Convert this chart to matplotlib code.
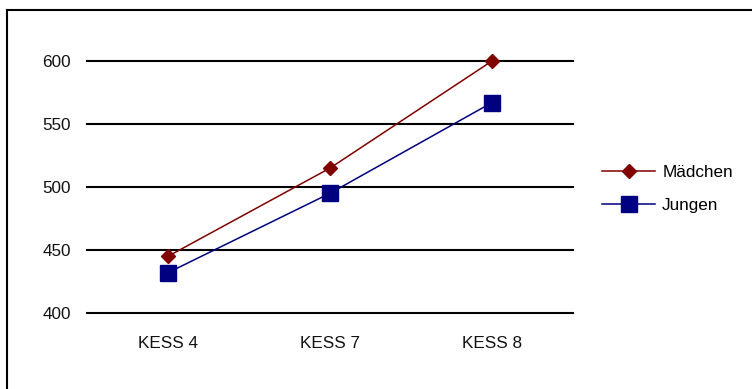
import matplotlib.pyplot as plt
from matplotlib.lines import Line2D

categories = ["KESS 4", "KESS 7", "KESS 8"]
maedchen = [445, 515, 600]
jungen = [432, 495, 567]
y_ticks = [400, 450, 500, 550, 600]

plt.rcParams['font.family'] = ['Liberation Sans', 'DejaVu Sans']

W, H = 752, 389
fig = plt.figure(figsize=(W / 100, H / 100), dpi=100)
ax = fig.add_axes([87 / W, (H - 313) / H, 486 / W, 252 / H])

x = range(len(categories))
ax.plot(x, maedchen, color='#800000', lw=1.1, marker='D', ms=7,
        label='Mädchen', clip_on=False, zorder=3)
ax.plot(x, jungen, color='#000080', lw=1.1, marker='s', ms=12,
        label='Jungen', clip_on=False, zorder=3)

ax.set_xlim(-0.5, len(categories) - 0.5)
ax.set_ylim(400, 600)
ax.set_yticks(y_ticks)
ax.set_xticks(list(x))
ax.set_xticklabels(categories)
for y in y_ticks:
    ax.axhline(y, color='black', lw=1.5, zorder=1, clip_on=False)
for s in ax.spines.values():
    s.set_visible(False)
ax.tick_params(axis='both', length=0, labelsize=12.3, colors='#111111')
ax.tick_params(axis='y', pad=11.5)
ax.tick_params(axis='x', pad=16.5)

ax.legend(loc='center left', bbox_to_anchor=(587 / W, (H - 189) / H),
          bbox_transform=fig.transFigure, frameon=False, fontsize=12.3,
          handlelength=3.1, handletextpad=0.4, labelspacing=1.1)

# outer frame (only left and top edges visible)
fig.add_artist(Line2D([7 / W, 7 / W], [0, (H - 10) / H], color='black', lw=1.5,
                      transform=fig.transFigure))
fig.add_artist(Line2D([7 / W, 1], [(H - 10) / H, (H - 10) / H], color='black', lw=1.5,
                      transform=fig.transFigure))

fig.savefig('out.png', dpi=100)
